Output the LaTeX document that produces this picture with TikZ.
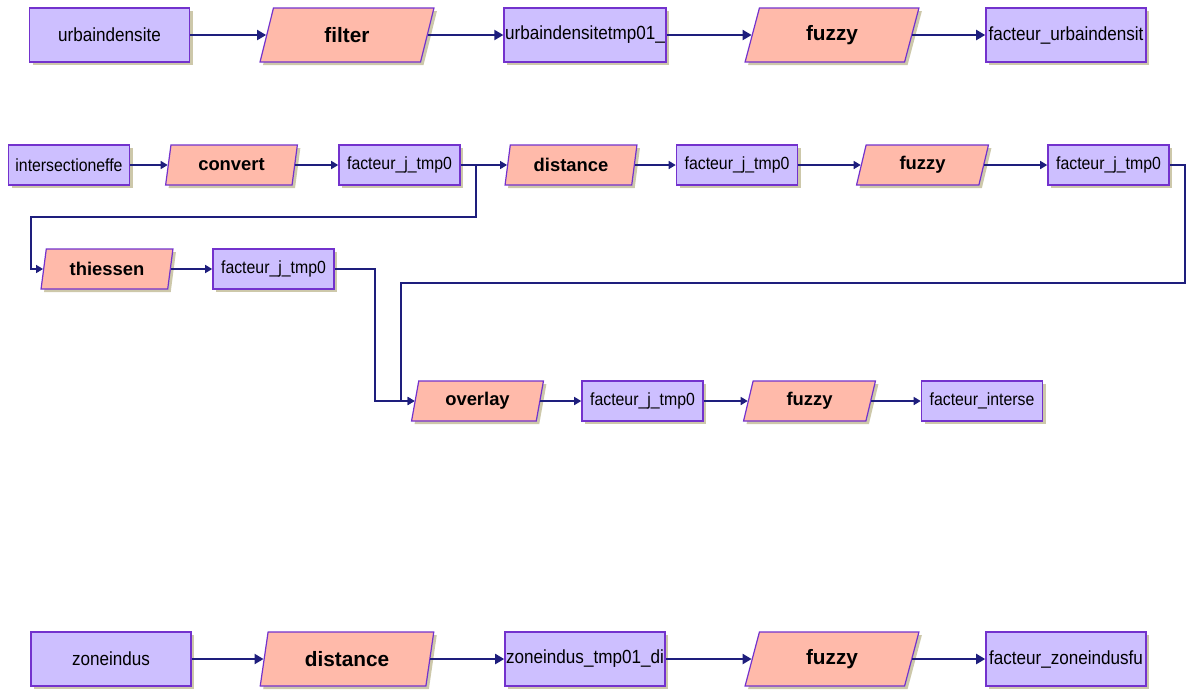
\documentclass[tikz,border=0pt]{standalone}
\usepackage{fontspec}
\setmainfont{Liberation Sans}
\newfontfamily\etroit{Liberation Sans}[FakeStretch=0.9]
\usetikzlibrary{shapes.geometric,arrows.meta,shadows}
\definecolor{donneefond}{RGB}{205,191,255}
\definecolor{modulefond}{RGB}{255,186,170}
\definecolor{bord}{RGB}{115,50,205}
\definecolor{lien}{RGB}{30,30,125}
\definecolor{ombre}{RGB}{205,200,170}

\begin{document}
\begin{tikzpicture}[x=0.5pt,y=-0.5pt,
    donnee/.style={rectangle,draw=bord,fill=donneefond,line width=0.8pt,inner sep=0.5pt,
        drop shadow={shadow xshift=1.5pt,shadow yshift=-1.5pt,fill=ombre,opacity=1}},
    module/.style={trapezium,trapezium stretches=true,draw=bord,fill=modulefond,line width=0.6pt,inner sep=0.5pt,
        drop shadow={shadow xshift=1.5pt,shadow yshift=-1.5pt,fill=ombre,opacity=1}},
    grand/.style={minimum width=80pt,minimum height=27pt,font=\etroit\fontsize{9.5}{11}\selectfont},
    grandmod/.style={minimum width=87pt,minimum height=27pt,trapezium left angle=76,trapezium right angle=104,
        font=\fontsize{10.4}{12}\selectfont\bfseries},
    petit/.style={minimum width=60.5pt,minimum height=20pt,font=\etroit\fontsize{8.8}{10}\selectfont},
    petitmod/.style={minimum width=66pt,minimum height=20pt,trapezium left angle=78,trapezium right angle=102,
        font=\fontsize{9.2}{11}\selectfont\bfseries},
    fleche/.style={draw=lien,line width=1pt,-{Triangle[length=4.5pt,width=5pt]}},
    fin/.style={draw=lien,line width=0.75pt,-{Triangle[length=3.5pt,width=4pt]}}]

    \useasboundingbox (0,0) rectangle (1192,693);

    \node[donnee,grand] (u1) at (109.5,35) {urbaindensite};
    \node[module,grandmod] (f1) at (347,35) {filter};
    \node[donnee,grand] (u2) at (585,35) {urbaindensitetmp01\_};
    \node[module,grandmod] (z1) at (832,35) {fuzzy};
    \node[donnee,grand] (u3) at (1066,35) {facteur\_urbaindensit};
    \draw[fleche] (u1.east) -- (f1.left side);
    \draw[fleche] (f1.right side) -- (u2.west);
    \draw[fleche] (u2.east) -- (z1.left side);
    \draw[fleche] (z1.right side) -- (u3.west);

    \node[donnee,petit] (a1) at (69,165) {intersectioneffe};
    \node[module,petitmod] (c1) at (231.5,165) {convert};
    \node[donnee,petit] (b1) at (399.5,165) {facteur\_j\_tmp0};
    \node[module,petitmod] (d1) at (571,165) {distance};
    \node[donnee,petit] (b2) at (737,165) {facteur\_j\_tmp0};
    \node[module,petitmod] (y1) at (922.5,165) {fuzzy};
    \node[donnee,petit] (b3) at (1108.5,165) {facteur\_j\_tmp0};
    \draw[fin] (a1.east) -- (c1.left side);
    \draw[fin] (c1.right side) -- (b1.west);
    \draw[fin] (b1.east) -- (d1.left side);
    \draw[fin] (d1.right side) -- (b2.west);
    \draw[fin] (b2.east) -- (y1.left side);
    \draw[fin] (y1.right side) -- (b3.west);

    \node[module,petitmod] (t1) at (107,269) {thiessen};
    \node[donnee,petit] (b4) at (273.5,269) {facteur\_j\_tmp0};
    \draw[fin] (b1.east) -- ++(15,0) |- (31,217) |- (t1.left side);
    \draw[fin] (t1.right side) -- (b4.west);

    \node[module,petitmod] (o1) at (477.5,401) {overlay};
    \node[donnee,petit] (b5) at (642.5,401) {facteur\_j\_tmp0};
    \node[module,petitmod] (y2) at (809.5,401) {fuzzy};
    \node[donnee,petit] (b6) at (982,401) {facteur\_interse};
    \draw[fin] (b4.east) -- ++(40,0) |- (o1.left side);
    \draw[fin] (b3.east) -- ++(15,0) |- (401,283) |- (o1.left side);
    \draw[fin] (o1.right side) -- (b5.west);
    \draw[fin] (b5.east) -- (y2.left side);
    \draw[fin] (y2.right side) -- (b6.west);

    \node[donnee,grand] (v1) at (111,659) {zoneindus};
    \node[module,grandmod] (e1) at (347,659) {distance};
    \node[donnee,grand] (v2) at (585,659) {zoneindus\_tmp01\_di};
    \node[module,grandmod] (z2) at (832,659) {fuzzy};
    \node[donnee,grand] (v3) at (1066,659) {facteur\_zoneindusfu};
    \draw[fleche] (v1.east) -- (e1.left side);
    \draw[fleche] (e1.right side) -- (v2.west);
    \draw[fleche] (v2.east) -- (z2.left side);
    \draw[fleche] (z2.right side) -- (v3.west);
\end{tikzpicture}
\end{document}
